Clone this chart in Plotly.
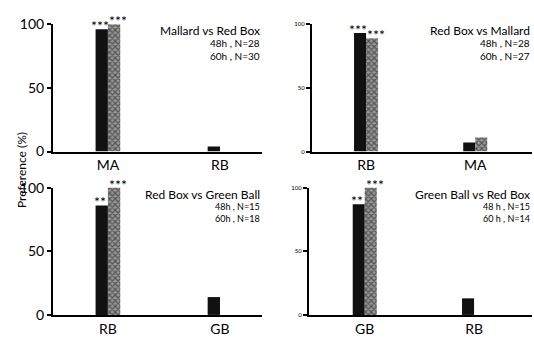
import plotly.graph_objects as go

# Data
panel_titles = ["Mallard vs Red Box", "Red Box vs Mallard", "Red Box vs Green Ball", "Green Ball vs Red Box"]
panel_cats = [["MA", "RB"], ["RB", "MA"], ["RB", "GB"], ["GB", "RB"]]
vals_48h = [[96, 4], [93, 7], [86, 14], [87, 13]]
vals_60h = [[100, 0], [89, 11], [100, 0], [100, 0]]
n_48h = ["48h , N=28", "48h , N=28", "48h , N=15", "48 h , N=15"]
n_60h = ["60h , N=30", "60h , N=27", "60h , N=18", "60 h , N=14"]
stars_48h = ["***", "***", "**", "**"]
stars_60h = ["***", "***", "***", "***"]
y_ticks = [0, 50, 100]

W, H = 534, 340
FONT = "Lato"

# layout geometry (pixels)
xdom_px = [(53, 262), (312, 532), (53, 262), (309, 532)]
ydom_px = [(16, 150), (16, 150), (188, 322), (188, 322)]
xranges = [[-0.49, 1.375], [-0.495, 1.52], [-0.49, 1.375], [-0.51, 1.53]]
tick_font = [14, 6, 14, 6]

fig = go.Figure()
layout = dict(width=W, height=H, margin=dict(l=0, r=0, t=0, b=0),
              paper_bgcolor="white", plot_bgcolor="white", showlegend=False,
              barmode="group", bargap=0.78, bargroupgap=0)
annotations = []
for i in range(4):
    xa = "x" if i == 0 else f"x{i+1}"
    ya = "y" if i == 0 else f"y{i+1}"
    fig.add_trace(go.Bar(x=panel_cats[i], y=vals_48h[i], xaxis=xa, yaxis=ya,
                         marker=dict(color="#111111", line=dict(width=0)), name="48h",
                         offsetgroup="a"))
    fig.add_trace(go.Bar(x=panel_cats[i], y=vals_60h[i], xaxis=xa, yaxis=ya,
                         marker=dict(color="#777777", line=dict(width=0),
                                     pattern=dict(shape="x", fgcolor="#111111", bgcolor="#999999",
                                                  size=4, solidity=0.55)),
                         name="60h", offsetgroup="b"))
    x0, x1 = xdom_px[i]
    y0, y1 = ydom_px[i]
    layout["xaxis" if i == 0 else f"xaxis{i+1}"] = dict(
        domain=[x0 / W, x1 / W], anchor=ya, type="category", range=xranges[i],
        showline=True, linecolor="black", linewidth=2, ticks="", showgrid=False,
        tickfont=dict(family=FONT, size=14, color="black"), ticklen=0)
    layout["yaxis" if i == 0 else f"yaxis{i+1}"] = dict(
        domain=[1 - y1 / H, 1 - y0 / H], anchor=xa, range=[0, 100],
        showline=True, linecolor="black", linewidth=2, ticks="outside", ticklen=4,
        tickwidth=1.5, tickcolor="black", tickvals=y_ticks, showgrid=False, zeroline=False,
        tickfont=dict(family=FONT, size=tick_font[i], color="black"))
    # star annotations
    annotations.append(dict(x=panel_cats[i][0], y=vals_48h[i][0], xref=xa, yref=ya,
                            text=stars_48h[i], showarrow=False, yanchor="bottom",
                            xshift=-8, yshift=-7, font=dict(family=FONT, size=14, color="black")))
    annotations.append(dict(x=panel_cats[i][0], y=vals_60h[i][0], xref=xa, yref=ya,
                            text=stars_60h[i], showarrow=False, yanchor="bottom",
                            xshift=10, yshift=-7, font=dict(family=FONT, size=14, color="black")))
    # legend texts
    small = i >= 2
    annotations.append(dict(x=x1 / W, y=1 - (y0 + 7) / H, xref="paper", yref="paper",
                            text=panel_titles[i], showarrow=False, xanchor="right", yanchor="middle",
                            font=dict(family=FONT, size=12, color="black")))
    annotations.append(dict(x=x1 / W, y=1 - (y0 + 20) / H, xref="paper", yref="paper",
                            text=n_48h[i], showarrow=False, xanchor="right", yanchor="middle",
                            font=dict(family=FONT, size=10 if not small else 9, color="black")))
    annotations.append(dict(x=x1 / W, y=1 - (y0 + 33) / H, xref="paper", yref="paper",
                            text=n_60h[i], showarrow=False, xanchor="right", yanchor="middle",
                            font=dict(family=FONT, size=10 if not small else 9, color="black")))

annotations.append(dict(x=12 / W, y=1 - 170 / H, xref="paper", yref="paper", text="Preference (%)",
                        textangle=-90, showarrow=False, font=dict(family=FONT, size=12, color="black")))
layout["annotations"] = annotations
fig.update_layout(**layout)
for t in fig.data:
    t.update(cliponaxis=False)
fig.write_html("out.html")
